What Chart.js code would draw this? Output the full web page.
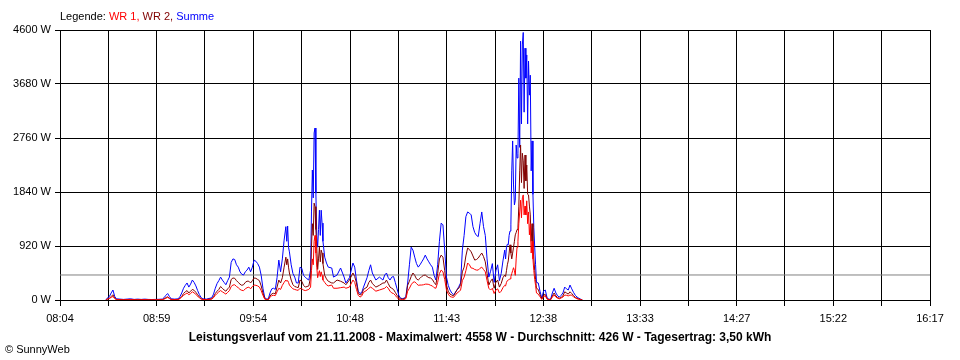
<!DOCTYPE html>
<html>
<head>
<meta charset="utf-8">
<script src="https://cdn.jsdelivr.net/npm/chart.js@4.4.0/dist/chart.umd.min.js"></script>
<style>
  body { margin: 0; background: #fff; }
  #wrap { position: relative; width: 960px; height: 360px; font-family: "Liberation Sans", Arial, sans-serif; font-size: 11px; color: #000; }
  #myChart { position: absolute; left: 0; top: 0; }
  .legend { position: absolute; left: 60px; top: 10px; white-space: nowrap; }
  .title { position: absolute; left: 0; width: 960px; top: 330px; text-align: center; font-weight: bold; font-size: 12px; white-space: nowrap; }
  .copy { position: absolute; left: 5px; top: 343px; }
</style>
</head>
<body>
<div id="wrap">
  <canvas id="myChart" width="960" height="360"></canvas>
  <div class="legend">Legende: <span style="color:#ff0000">WR 1,</span> <span style="color:#800000">WR 2,</span> <span style="color:#0000ff">Summe</span></div>
  <div class="title" id="title"></div>
  <div class="copy">&copy; SunnyWeb</div>
</div>
<script>
// time of each reading
var times = [
  '08:30','08:31','08:32','08:33','08:34','08:35','08:36','08:38','08:40','08:42','08:44','08:46','08:48','08:50','08:52','08:54','08:56','08:58','09:00','09:02',
  '09:03','09:04','09:05','09:06','09:07','09:09','09:11','09:12','09:13','09:14','09:15','09:16','09:17','09:18','09:19','09:20','09:21','09:22','09:23','09:24',
  '09:25','09:27','09:29','09:30','09:31','09:32','09:33','09:34','09:35','09:36','09:37','09:38','09:39','09:40','09:41','09:42','09:43','09:44','09:45','09:46',
  '09:47','09:48','09:49','09:50','09:51','09:52','09:53','09:54','09:55','09:56','09:57','09:58','09:59','10:00','10:01','10:02','10:03','10:04','10:05','10:06',
  '10:07','10:08','10:09','10:10','10:11','10:12','10:12:30','10:13','10:13:30','10:14','10:15','10:16','10:17','10:18','10:19','10:20','10:21','10:22','10:23','10:24',
  '10:25','10:26','10:26:30','10:27','10:27:30','10:28','10:28:30','10:29','10:29:30','10:30','10:30:30','10:31','10:31:30','10:32','10:32:30','10:33','10:34','10:35','10:36','10:38',
  '10:39','10:41','10:43','10:45','10:46','10:48','10:50','10:51','10:52','10:53','10:54','10:55','10:56','10:58','10:59','11:00','11:01','11:03','11:05','11:07',
  '11:08','11:09','11:10','11:11','11:12','11:13','11:14','11:15','11:16','11:17','11:18','11:19','11:20','11:21','11:22','11:23','11:24','11:25','11:26','11:27',
  '11:28','11:29','11:30','11:31','11:32','11:33','11:34','11:35','11:36','11:37','11:38','11:39','11:40','11:41','11:42','11:43','11:44','11:45','11:46','11:47',
  '11:48','11:49','11:50','11:51','11:52','11:53','11:54','11:55','11:56','11:57','11:58','11:59','12:00','12:01','12:02','12:03','12:04','12:05','12:06','12:07',
  '12:08','12:09','12:10','12:11','12:12','12:13','12:14','12:15','12:16','12:16:30','12:17','12:17:30','12:18','12:18:30','12:19','12:19:30','12:20','12:20:30','12:21','12:21:30',
  '12:22','12:22:30','12:23','12:23:30','12:24','12:24:30','12:25','12:25:30','12:26','12:26:30','12:27','12:27:30','12:28','12:28:30','12:29','12:29:30','12:30','12:30:30','12:31','12:31:30',
  '12:32','12:32:30','12:33','12:33:30','12:34','12:35','12:36','12:37','12:38','12:39','12:40','12:41','12:42','12:43','12:44','12:45','12:46','12:47','12:48','12:49',
  '12:50','12:51','12:52','12:53','12:54','12:55','12:56','12:57','12:58','12:59','13:00'
];

// WR 1 (red), watts
var wr1 = [
  0,15,25,45,60,25,8,5,4,5,8,4,5,4,5,4,3,4,5,6,
  15,30,45,25,8,6,8,25,50,80,100,120,90,110,140,120,95,65,35,16,
  8,6,12,16,40,80,110,140,160,140,120,100,130,160,230,255,260,230,210,180,
  165,160,190,210,220,190,230,255,250,240,220,160,80,16,8,6,45,75,80,75,
  140,200,180,250,300,340,320,330,300,255,220,190,180,170,165,200,190,170,160,170,
  180,220,500,700,600,1000,1100,800,560,380,450,500,400,480,420,340,300,260,240,255,
  200,200,210,220,200,220,340,300,180,80,50,70,130,170,200,220,200,150,170,190,
  200,230,200,150,120,110,80,40,15,5,5,8,25,150,200,260,300,310,280,250,
  255,255,260,270,270,265,250,240,210,200,300,450,510,480,350,170,100,60,50,45,
  80,120,140,170,330,390,500,630,600,545,540,520,510,510,540,560,520,480,330,200,
  170,200,110,170,190,120,150,210,250,240,300,330,340,350,360,400,450,500,550,500,
  420,700,900,1000,1300,1500,1700,1400,1740,1790,1450,1600,1450,1690,1300,1500,1110,1300,800,1000,
  700,500,350,250,120,100,55,10,60,70,15,6,4,50,85,50,30,20,35,50,
  85,80,70,85,80,55,35,20,12,6,0
];

// WR 2 (dark red), watts
var wr2 = [
  0,20,30,60,90,30,10,8,5,8,10,5,8,5,8,5,4,5,6,8,
  20,40,55,30,10,8,10,30,60,110,140,160,120,150,180,165,130,90,50,22,
  10,8,15,20,55,110,150,180,230,200,170,150,190,220,350,375,370,330,300,270,
  250,260,300,320,320,290,330,375,370,350,330,240,120,20,10,8,65,105,115,105,
  220,340,290,380,560,730,600,700,560,460,340,260,230,220,210,340,320,250,220,230,
  240,390,900,1300,1100,1650,1590,1200,900,520,700,900,650,850,800,620,420,360,320,290,
  290,340,320,290,260,340,460,400,290,120,85,100,180,220,300,340,280,220,250,290,
  290,340,280,220,200,180,130,80,40,20,15,20,40,250,320,400,460,420,360,340,
  370,400,420,425,400,380,375,350,300,260,450,700,765,730,500,255,150,100,85,70,
  120,180,200,260,480,560,750,885,860,820,750,680,690,715,760,800,740,650,450,255,
  320,360,200,300,340,220,280,380,425,400,500,600,665,800,940,800,700,800,900,1000,
  1110,1150,1200,1230,1600,2200,2640,2000,2500,2370,1900,2470,2030,2300,1800,1790,1600,1450,1000,1300,
  900,700,500,350,200,180,90,20,85,95,25,8,5,70,120,70,40,30,45,70,
  140,120,100,140,110,75,45,30,18,8,0
];

// Summe (blue), watts
var summe = [
  0,40,60,120,170,60,20,15,10,15,20,10,15,10,15,10,8,10,12,15,
  40,80,110,60,20,15,20,60,120,200,250,290,220,270,340,300,240,160,90,40,
  20,15,30,40,100,200,280,330,390,340,300,260,330,390,640,700,690,600,560,480,
  440,425,480,510,560,480,560,680,660,620,560,420,200,40,20,15,120,190,200,180,
  380,680,480,700,1020,1250,1000,1260,900,820,600,450,390,290,290,560,540,420,390,360,
  340,510,1500,2215,1740,2845,2930,1820,1100,900,1200,1530,1100,1530,1310,1000,730,630,560,545,
  390,425,545,390,290,380,630,560,340,150,110,130,220,380,500,600,460,340,390,340,
  425,460,380,340,390,400,300,190,80,30,25,30,60,290,600,900,850,730,620,560,
  600,650,700,765,700,650,600,560,420,340,600,1000,1310,1280,850,390,250,170,120,90,
  130,170,230,290,850,1100,1420,1500,1480,1450,1250,1150,1100,1080,1300,1500,1250,1100,700,390,
  490,620,300,500,600,330,450,665,850,700,900,950,940,1100,1175,1280,2200,2710,1960,1620,
  1700,2640,2420,2500,3780,2600,4410,3000,4345,4558,3200,4290,3780,4175,3000,4070,3490,3830,2200,2710,
  1800,1230,900,600,300,290,150,30,150,170,40,15,10,120,200,120,70,50,80,120,
  220,190,170,255,190,130,80,50,30,15,0
];

// axis range and tick labels
var xStart = '08:04';
var xEnd = '16:17';
var xTickLabels = ['08:04','08:59','09:54','10:48','11:43','12:38','13:33','14:27','15:22','16:17'];
var yTicks = [0, 920, 1840, 2760, 3680, 4600];

// day summary
var dayDate = '21.11.2008';
var maxW = 4558;
var avgW = 426;
var yieldKWh = '3,50';

function toMin(t) {
  var p = t.split(':');
  return +p[0] * 60 + +p[1] + (p[2] ? +p[2] / 60 : 0);
}

function series(values) {
  return values.map(function (v, i) { return { x: toMin(times[i]), y: v }; });
}

var xMin = toMin(xStart), xMax = toMin(xEnd);
var xSteps = (xTickLabels.length - 1) * 2;

document.getElementById('title').textContent =
  'Leistungsverlauf vom ' + dayDate + ' - Maximalwert: ' + maxW + ' W - Durchschnitt: ' + avgW +
  ' W - Tagesertrag: ' + yieldKWh + ' kWh';

Chart.defaults.font.family = '"Liberation Sans", Arial, sans-serif';
Chart.defaults.font.size = 11;
Chart.defaults.color = '#000';

var data = {
  datasets: [
    { label: 'WR 1', data: series(wr1), borderColor: '#ff0000' },
    { label: 'WR 2', data: series(wr2), borderColor: '#800000' },
    { label: 'Summe', data: series(summe), borderColor: '#0000ff' },
    { label: 'Durchschnitt', data: [{ x: xMin, y: avgW }, { x: xMax, y: avgW }], borderColor: '#808080' }
  ]
};

var options = {
  responsive: false,
  animation: false,
  parsing: false,
  normalized: true,
  layout: { padding: { top: 30, right: 30, bottom: 0, left: 0 } },
  elements: {
    line: { borderWidth: 1, tension: 0, fill: false },
    point: { radius: 0, hoverRadius: 0 }
  },
  scales: {
    x: {
      type: 'linear',
      min: xMin,
      max: xMax,
      afterBuildTicks: function (scale) {
        var t = [];
        for (var i = 0; i <= xSteps; i++) t.push({ value: xMin + i * (xMax - xMin) / xSteps });
        scale.ticks = t;
      },
      afterFit: function (scale) {
        scale.height = 60;
        scale.paddingLeft = 0;
        scale.paddingRight = 0;
      },
      grid: { color: '#000', lineWidth: 1, tickLength: 6 },
      border: { color: '#000' },
      ticks: {
        autoSkip: false,
        maxRotation: 0,
        padding: 6,
        callback: function (v, i) { return i % 2 === 0 ? xTickLabels[i / 2] : ''; }
      }
    },
    y: {
      min: yTicks[0],
      max: yTicks[yTicks.length - 1],
      afterBuildTicks: function (scale) {
        scale.ticks = yTicks.map(function (v) { return { value: v }; });
      },
      afterFit: function (scale) {
        scale.width = 60;
        scale.paddingTop = 0;
        scale.paddingBottom = 0;
      },
      grid: { color: '#000', lineWidth: 1, tickLength: 5 },
      border: { color: '#000' },
      ticks: {
        padding: 4,
        callback: function (v) { return v + ' W'; }
      }
    }
  },
  plugins: {
    legend: { display: false },
    tooltip: { enabled: false }
  }
};

var ctx = document.getElementById('myChart').getContext('2d');
var myChart = new Chart(ctx, { type: 'line', data: data, options: options });
</script>
</body>
</html>
